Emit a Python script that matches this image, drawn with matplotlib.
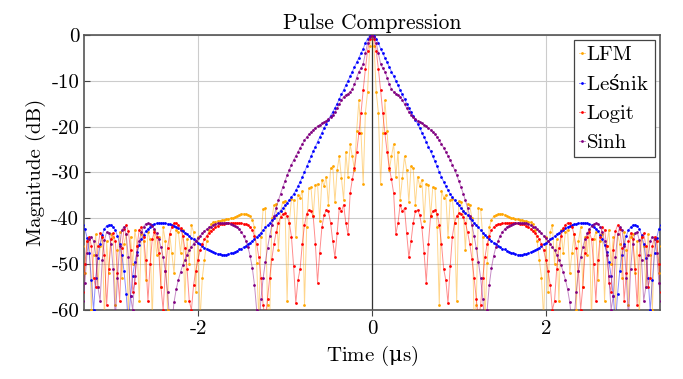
import matplotlib
matplotlib.use("Agg")
import matplotlib.pyplot as plt
import numpy as np

# === DATA (right half t >= 0; curves are symmetric) ===
t_step = 0.025  # us

lfm_half = [
    0.0, -2.5, -12.5, -17.0, -32.5, -21.5, -14.3, -21.0, -29.5, -26.5,
    -23.8, -30.9, -25.5, -36.0, -31.3, -26.5, -29.5, -36.5, -28.7, -29.1,
    -37.0, -30.9, -33.0, -31.6, -40.5, -32.5, -32.7, -39.6, -33.2, -33.5,
    -42.0, -59.0, -34.0, -35.5, -34.9, -44.0, -36.0, -35.8, -41.0, -58.0,
    -36.2, -36.4, -38.5, -47.0, -36.8, -37.2, -40.0, -62.0, -59.0, -37.8,
    -37.9, -44.0, -62.0, -49.8, -42.0, -40.3, -39.6, -39.3, -39.1, -39.0,
    -39.0, -39.2, -39.5, -39.7, -39.9, -40.0, -40.1, -40.2, -40.3, -40.4,
    -40.5, -40.6, -40.7, -40.9, -41.3, -42.5, -45.0, -49.0, -53.0, -62.0,
    -44.0, -56.0, -43.0, -41.5, -50.0, -44.5, -58.0, -42.5, -47.6, -43.0,
    -42.5, -52.0, -47.6, -43.5, -60.0, -45.0, -42.0, -55.0, -44.0, -48.0,
    -42.5, -62.0, -44.5, -43.0, -53.5, -45.0, -43.5, -58.0, -46.0, -42.5,
    -50.0, -44.0, -61.0, -43.5, -45.5, -53.0, -43.0, -47.0, -59.0, -44.0,
    -43.5, -52.0, -45.0, -62.0, -44.0, -46.0, -55.0, -43.5, -48.0, -60.0,
    -44.5, -45.0, -52.0, -46.0,
]

lesnik_half = [
    0.0, -0.2, -0.8, -1.8, -3.0, -4.0, -5.0, -6.0, -7.0, -8.0,
    -9.0, -10.0, -11.0, -12.0, -13.0, -14.0, -15.0, -15.9, -16.8, -17.6,
    -18.5, -19.4, -20.3, -21.3, -22.3, -23.3, -24.4, -25.4, -26.5, -27.6,
    -28.7, -29.9, -31.0, -32.0, -33.0, -33.9, -34.7, -35.4, -36.0, -36.6,
    -37.2, -37.8, -38.3, -38.8, -39.3, -39.9, -40.4, -41.0, -41.5, -42.0,
    -42.6, -43.1, -43.6, -44.0, -44.5, -44.9, -45.3, -45.6, -46.0, -46.3,
    -46.6, -46.8, -47.1, -47.3, -47.5, -47.6, -47.8, -47.9, -47.9, -47.9,
    -47.8, -47.7, -47.6, -47.4, -47.2, -47.0, -46.7, -46.4, -46.1, -45.7,
    -45.4, -45.0, -44.6, -44.3, -43.9, -43.5, -43.1, -42.8, -42.5, -42.2,
    -41.9, -41.7, -41.5, -41.3, -41.2, -41.1, -41.0, -41.0, -41.0, -41.1,
    -41.2, -41.5, -41.9, -42.3, -42.8, -43.6, -44.6, -45.8, -47.3, -49.5,
    -52.5, -57.0, -63.0, -56.5, -51.5, -48.0, -45.5, -43.8, -42.6, -41.9,
    -41.5, -41.4, -41.6, -42.3, -43.6, -45.6, -48.6, -53.0, -60.0, -53.5,
    -47.5, -44.2, -42.3, -41.5,
]

logit_half = [
    0.0, -0.9, -3.5, -7.5, -12.0, -17.0, -21.5, -25.5, -29.0, -31.5,
    -34.5, -43.5, -41.0, -37.0, -38.5, -37.8, -43.3, -48.5, -45.0, -41.0,
    -38.5, -38.2, -39.3, -42.0, -47.5, -54.0, -45.5, -39.5, -38.5, -38.2,
    -39.0, -41.5, -45.5, -51.0, -53.5, -58.5, -50.5, -44.0, -41.0, -39.5,
    -38.9, -39.1, -39.7, -41.0, -43.0, -45.5, -48.8, -53.0, -57.5, -62.0,
    -59.0, -53.0, -48.5, -45.6, -43.8, -42.6, -41.9, -41.5, -41.3, -41.2,
    -41.1, -41.0, -41.0, -41.0, -41.0, -41.0, -41.0, -41.1, -41.2, -41.3,
    -41.3, -41.6, -41.9, -42.3, -42.7, -43.2, -43.8, -44.6, -45.6, -47.0,
    -49.0, -51.5, -54.5, -60.0, -58.0, -51.0, -46.5, -43.8, -42.2, -41.4,
    -41.0, -41.1, -41.8, -43.5, -46.5, -51.5, -60.0, -55.0, -47.5, -44.0,
    -43.0, -44.5, -50.0, -58.0, -49.0, -44.0, -42.0, -42.5, -46.0, -54.0,
    -56.0, -47.0, -42.8, -41.5, -42.3, -46.5, -58.0, -52.0, -45.0, -43.2,
    -44.5, -51.0, -59.0, -48.0, -44.0, -43.3, -46.0, -55.0, -53.0, -46.0,
    -44.0, -45.0, -50.0, -56.0,
]

sinh_half = [
    0.0, -0.5, -1.8, -4.0, -6.3, -7.3, -8.0, -9.3, -10.8, -11.8,
    -12.4, -12.8, -13.1, -13.5, -14.2, -15.1, -16.0, -16.8, -17.4, -17.9,
    -18.3, -18.7, -19.0, -19.3, -19.6, -19.9, -20.3, -20.7, -21.2, -21.7,
    -22.3, -23.0, -23.8, -24.6, -25.5, -26.4, -27.3, -28.3, -29.4, -30.6,
    -31.9, -33.2, -34.6, -36.1, -37.7, -39.5, -41.5, -43.8, -46.5, -49.5,
    -53.0, -57.5, -64.0, -60.0, -54.5, -50.8, -48.2, -46.3, -44.9, -43.8,
    -43.0, -42.4, -41.9, -41.6, -41.4, -41.2, -41.1, -41.0, -41.0, -41.0,
    -41.0, -41.1, -41.3, -41.5, -41.8, -42.0, -42.4, -42.8, -43.3, -43.8,
    -44.3, -44.9, -45.5, -46.2, -47.0, -47.9, -49.0, -50.2, -51.7, -53.4,
    -55.5, -58.3, -63.0, -62.0, -56.0, -51.5, -48.5, -46.3, -44.6, -43.3,
    -42.4, -41.7, -41.3, -41.1, -41.2, -41.8, -43.0, -45.0, -48.0, -52.5,
    -60.0, -57.0, -48.5, -43.5, -41.8, -42.5, -46.0, -53.0, -62.0, -51.0,
    -45.5, -43.3, -43.0, -44.8, -49.0, -58.0, -55.0, -48.0, -45.0, -44.0,
    -44.5, -47.5, -54.0, -58.0,
]

series = [
    ("LFM", lfm_half, "#FFA500"),
    (r"Le$\mathrm{ś}$nik", lesnik_half, "#0000FF"),
    ("Logit", logit_half, "#FF0000"),
    ("Sinh", sinh_half, "#800080"),
]

# === STYLE (LaTeX-like look) ===
plt.rcParams["font.family"] = ["cmr10", "DejaVu Serif"]
plt.rcParams["axes.unicode_minus"] = False
plt.rcParams["axes.formatter.use_mathtext"] = False
plt.rcParams["mathtext.fontset"] = "custom"
plt.rcParams["mathtext.rm"] = "DejaVu Serif"
plt.rcParams["mathtext.it"] = "DejaVu Serif:italic"
plt.rcParams["font.size"] = 15

fig = plt.figure(figsize=(6.83, 3.79), dpi=100)
ax = fig.add_axes([0.123, 0.182, 0.843, 0.726])

for name, half, col in series:
    half = np.asarray(half)
    t = np.arange(len(half)) * t_step
    tt = np.concatenate([-t[::-1], t[1:]])
    yy = np.concatenate([half[::-1], half[1:]])
    line_col = matplotlib.colors.to_rgba(col, 0.45)
    ax.plot(tt, yy, color=line_col, lw=0.7, marker="o", ms=2.0,
            markerfacecolor=col, markeredgecolor=col, markeredgewidth=0,
            label=name, zorder=3)

ax.axvline(0, color="#333333", lw=0.9, zorder=2)

ax.set_xlim(-3.31, 3.31)
ax.set_ylim(-60, 0)
ax.set_xticks([-2, 0, 2])
ax.set_yticks(np.arange(-60, 1, 10))
ax.grid(True, color="#cccccc", lw=0.8, zorder=0)
ax.set_axisbelow(True)
ax.tick_params(axis="x", direction="out", length=4, color="#444444")
ax.tick_params(axis="y", direction="in", length=4, color="#444444")
for sp in ax.spines.values():
    sp.set_color("#555555")
    sp.set_linewidth(1.2)

ax.set_title("Pulse Compression", fontsize=15.5, pad=4)
ax.set_xlabel(r"Time ($\mathrm{\mu}$s)", fontsize=15, labelpad=4)
ax.set_ylabel("Magnitude (dB)", fontsize=15, labelpad=4)

leg = ax.legend(loc="upper right", fancybox=False, edgecolor="#444444",
                framealpha=1, handlelength=0.3, handletextpad=0.05,
                borderaxespad=0.25, borderpad=0.25, labelspacing=0.5,
                fontsize=15)
leg.get_frame().set_linewidth(0.9)

plt.savefig("out.png", dpi=100)
